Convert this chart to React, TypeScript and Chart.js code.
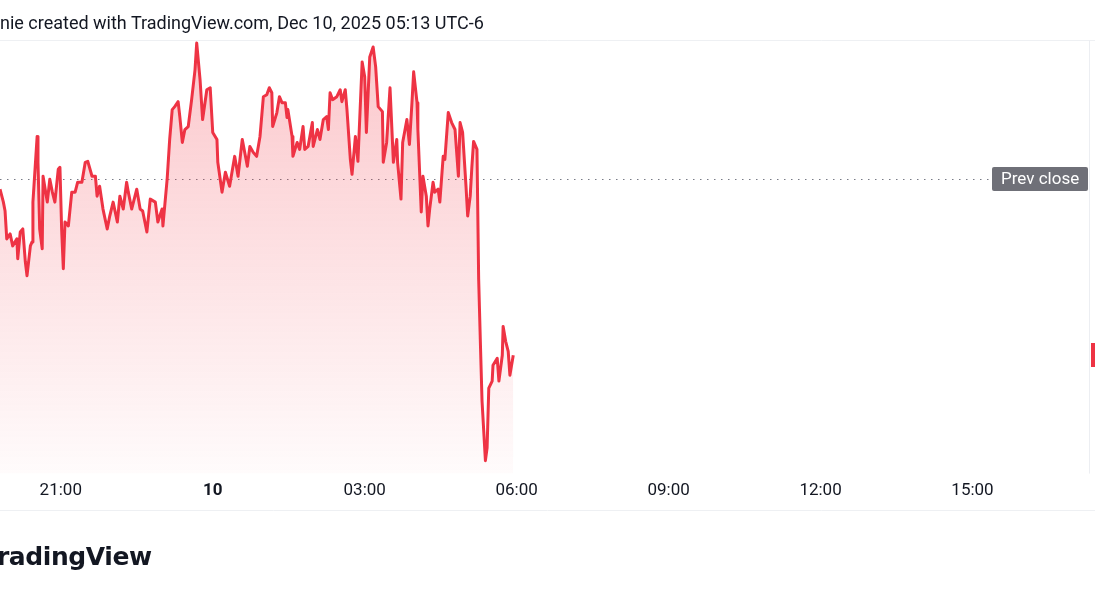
import React, { useEffect, useRef } from 'react';
import { Chart, registerables } from 'chart.js';

Chart.register(...registerables);

// Time of each point in minutes after Dec 9, 00:00 (exchange time)
const TIMES = [
  1188, 1192, 1194, 1196, 1200, 1203, 1208, 1209, 1212, 1215, 1218, 1220, 1224, 1226, 1227, 1232,
  1233, 1235, 1238, 1239, 1244, 1247, 1250, 1253, 1257, 1259, 1261, 1263, 1265, 1269, 1273, 1277,
  1280, 1285, 1289, 1292, 1297, 1301, 1303, 1306, 1310, 1315, 1318, 1322, 1327, 1330, 1334, 1338,
  1340, 1344, 1350, 1354, 1357, 1362, 1366, 1372, 1375, 1380, 1381, 1386, 1389, 1392, 1395, 1399,
  1401, 1404, 1407, 1411, 1415, 1419, 1421, 1425, 1428, 1433, 1437, 1440, 1445, 1446, 1451, 1455,
  1460, 1466, 1470, 1475, 1481, 1484, 1488, 1492, 1496, 1500, 1504, 1507, 1510, 1511, 1516, 1519,
  1522, 1526, 1528, 1529, 1534, 1535, 1540, 1543, 1547, 1549, 1553, 1558, 1559, 1564, 1567, 1571,
  1575, 1577, 1579, 1582, 1587, 1591, 1593, 1597, 1599, 1603, 1605, 1609, 1612, 1617, 1620, 1622,
  1626, 1630, 1633, 1636, 1641, 1642, 1646, 1650, 1654, 1658, 1659, 1663, 1665, 1670, 1673, 1676,
  1678, 1682, 1683, 1687, 1689, 1693, 1695, 1697, 1701, 1703, 1707, 1709, 1713, 1715, 1719, 1723,
  1727, 1731, 1733, 1736, 1740, 1742, 1745, 1747, 1749, 1753, 1755, 1757, 1759, 1763, 1765, 1767,
  1771, 1772, 1777, 1779, 1783, 1784, 1787, 1790, 1792, 1796,
];

const PRICES = [
  99.9, 99.77, 99.68, 99.4, 99.45, 99.33, 99.4, 99.2, 99.47, 99.5, 99.17, 99.03, 99.33, 99.37, 99.77, 100.43,
  100.17, 99.5, 99.3, 100.03, 99.77, 100.0, 99.87, 99.77, 100.1, 100.12, 99.5, 99.1, 99.57, 99.53, 99.87, 99.87,
  99.97, 99.97, 100.17, 100.18, 100.03, 100.03, 99.83, 99.93, 99.7, 99.5, 99.63, 99.77, 99.57, 99.83, 99.7, 99.97,
  99.87, 99.7, 99.9, 99.7, 99.68, 99.47, 99.8, 99.77, 99.57, 99.7, 99.53, 100.0, 100.4, 100.7, 100.73, 100.78,
  100.63, 100.37, 100.5, 100.53, 100.8, 101.1, 101.37, 101.0, 100.6, 100.9, 100.92, 100.47, 100.4, 100.17, 99.87, 100.07,
  99.93, 100.23, 100.03, 100.4, 100.13, 100.33, 100.27, 100.23, 100.43, 100.83, 100.85, 100.92, 100.87, 100.53, 100.67, 100.83,
  100.77, 100.77, 100.62, 100.7, 100.43, 100.23, 100.37, 100.3, 100.53, 100.3, 100.33, 100.57, 100.33, 100.5, 100.4, 100.6,
  100.63, 100.5, 100.87, 100.8, 100.83, 100.9, 100.78, 100.9, 100.7, 100.2, 100.05, 100.43, 100.18, 101.18, 101.03, 100.47,
  101.23, 101.33, 101.13, 100.73, 100.68, 100.17, 100.37, 100.92, 100.17, 100.4, 100.17, 99.8, 100.37, 100.6, 100.35, 100.77,
  101.08, 100.77, 100.5, 99.67, 100.03, 99.83, 99.53, 99.7, 99.97, 99.87, 99.9, 99.77, 100.23, 100.2, 100.67, 100.57,
  100.5, 100.03, 100.57, 100.47, 99.93, 99.63, 99.83, 100.13, 100.38, 100.3, 99.0, 98.37, 97.77, 97.17, 97.3, 97.9,
  97.97, 98.13, 98.2, 97.97, 98.23, 98.52, 98.37, 98.27, 98.03, 98.23,
];

const PREV_CLOSE = 100.0;
const TICK_TIMES = [1260, 1440, 1620, 1800, 1980, 2160, 2340];
const FIRST_DAY = 9;
const X_MIN = 1188;
const X_MAX = 2478;
const Y_MIN = 97.04;
const Y_MAX = 101.4;

const HEADER = 'nie created with TradingView.com, Dec 10, 2025 05:13 UTC-6';
const LOGO = 'TradingView';
const PREV_LABEL = 'Prev close';

const FONT = 'Roboto, "Liberation Sans", sans-serif';
const TEXT = '#131722';
const RED = '#EE3344';

function fmtTime(v: number): string {
  if (v % 1440 === 0) return String(FIRST_DAY + v / 1440);
  const m = ((v % 1440) + 1440) % 1440;
  const hh = Math.floor(m / 60);
  const mm = m % 60;
  return String(hh).padStart(2, '0') + ':' + String(mm).padStart(2, '0');
}

const overlayPlugin = {
  id: 'tvOverlay',
  beforeDatasetsDraw(chart: any) {
    const { ctx, chartArea, scales } = chart;
    const yy = Math.round(scales.y.getPixelForValue(PREV_CLOSE)) + 0.5;
    ctx.save();
    ctx.strokeStyle = '#787b86';
    ctx.lineWidth = 1;
    ctx.setLineDash([1.5, 5.5]);
    ctx.beginPath();
    ctx.moveTo(chartArea.left, yy);
    ctx.lineTo(chartArea.right - 99, yy);
    ctx.stroke();
    ctx.restore();
  },
  afterDraw(chart: any) {
    const { ctx, chartArea, scales, width } = chart;
    ctx.save();
    // pane borders
    ctx.strokeStyle = '#eef0f3';
    ctx.lineWidth = 1;
    ctx.beginPath();
    ctx.moveTo(0, chartArea.top + 0.5);
    ctx.lineTo(width, chartArea.top + 0.5);
    ctx.moveTo(0, 510.5);
    ctx.lineTo(width, 510.5);
    ctx.stroke();
    ctx.strokeStyle = '#eceef2';
    ctx.beginPath();
    ctx.moveTo(chartArea.right + 0.5, chartArea.top);
    ctx.lineTo(chartArea.right + 0.5, chartArea.bottom);
    ctx.stroke();

    // prev close label
    const yy = scales.y.getPixelForValue(PREV_CLOSE);
    const bx = chartArea.right - 97;
    const bw = 96;
    const bh = 24;
    const by = Math.round(yy - bh / 2);
    ctx.fillStyle = '#6f7078';
    ctx.beginPath();
    if ((ctx as any).roundRect) (ctx as any).roundRect(bx, by, bw, bh, 2);
    else ctx.rect(bx, by, bw, bh);
    ctx.fill();
    ctx.fillStyle = '#ffffff';
    ctx.font = '17px ' + FONT;
    ctx.textBaseline = 'middle';
    ctx.textAlign = 'left';
    ctx.fillText(PREV_LABEL, bx + 9, by + bh / 2 + 1);

    // last price marker
    const last = PRICES[PRICES.length - 1];
    const ly = scales.y.getPixelForValue(last);
    ctx.fillStyle = RED;
    ctx.fillRect(chartArea.right + 2, Math.round(ly - 12), width - chartArea.right, 24);
    ctx.restore();
  },
};

export default function App() {
  const ref = useRef<HTMLCanvasElement | null>(null);

  useEffect(() => {
    if (!ref.current) return;
    const chart = new Chart(ref.current, {
      type: 'line',
      data: {
        datasets: [
          {
            data: TIMES.map((t, i) => ({ x: t, y: PRICES[i] })),
            borderColor: RED,
            borderWidth: 3,
            pointRadius: 0,
            tension: 0,
            borderJoinStyle: 'round',
            fill: 'start',
            backgroundColor: (c: any) => {
              const { chart: ch } = c;
              const area = ch.chartArea;
              if (!area) return 'rgba(242,54,69,0.15)';
              const g = ch.ctx.createLinearGradient(0, area.top, 0, area.bottom);
              g.addColorStop(0, 'rgba(242,54,69,0.28)');
              g.addColorStop(1, 'rgba(242,54,69,0.02)');
              return g;
            },
          },
        ],
      },
      options: {
        responsive: false,
        animation: false,
        devicePixelRatio: 1,
        layout: { padding: { left: 0, right: 6, top: 40, bottom: 92 } },
        plugins: { legend: { display: false }, tooltip: { enabled: false } },
        scales: {
          x: {
            type: 'linear',
            min: X_MIN,
            max: X_MAX,
            grid: { display: false, drawTicks: false },
            border: { display: false },
            afterBuildTicks: (scale: any) => {
              scale.ticks = TICK_TIMES.map((v) => ({ value: v }));
            },
            ticks: {
              autoSkip: false,
              maxRotation: 0,
              padding: 7,
              color: TEXT,
              font: (c: any) => ({
                family: FONT,
                size: 17,
                weight: c.tick && c.tick.value % 1440 === 0 ? 'bold' : 'normal',
              }),
              callback: (v: any) => fmtTime(Number(v)),
            },
          },
          y: {
            display: false,
            min: Y_MIN,
            max: Y_MAX,
          },
        },
      },
      plugins: [overlayPlugin],
    } as any);
    return () => chart.destroy();
  }, []);

  return (
    <div
      style={{
        position: 'fixed',
        left: 0,
        top: 0,
        width: 1095,
        height: 600,
        background: '#ffffff',
        overflow: 'hidden',
      }}
    >
      <canvas ref={ref} width={1095} height={600} style={{ position: 'absolute', left: 0, top: 0 }} />
      <div
        style={{
          position: 'absolute',
          left: 0,
          top: 14,
          font: '18px ' + FONT,
          lineHeight: '18px',
          color: TEXT,
          whiteSpace: 'nowrap',
        }}
      >
        {HEADER}
      </div>
      <div
        style={{
          position: 'absolute',
          left: -17,
          top: 544,
          font: 'bold 25px "DejaVu Sans", sans-serif',
          lineHeight: '25px',
          letterSpacing: '-0.4px',
          color: TEXT,
          whiteSpace: 'nowrap',
        }}
      >
        {LOGO}
      </div>
    </div>
  );
}
